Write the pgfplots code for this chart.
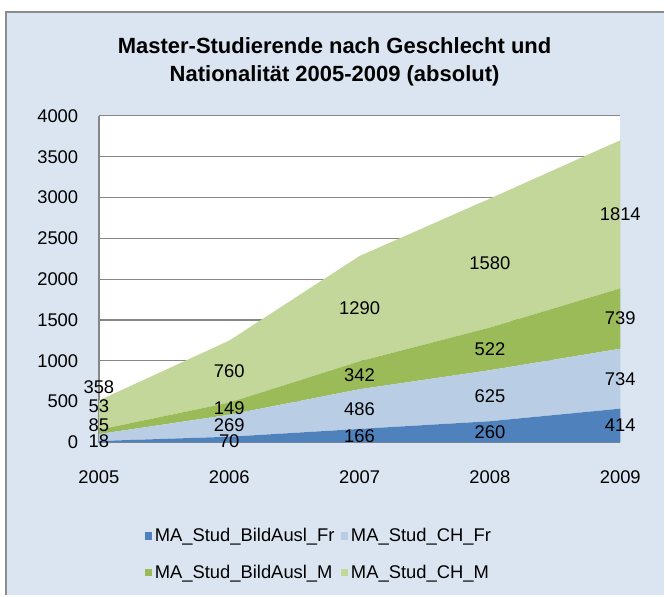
\documentclass[border=0pt]{standalone}
\usepackage{fontspec}
\setmainfont{Liberation Sans}
\usepackage{pgfplots}
\pgfplotsset{compat=1.18}
\definecolor{bgblue}{HTML}{DBE5F1}
\definecolor{framegray}{HTML}{8C8C8C}
\definecolor{gridgray}{HTML}{868686}
\definecolor{cDB}{HTML}{4F81BD}
\definecolor{cLB}{HTML}{B9CDE5}
\definecolor{cDG}{HTML}{9BBB59}
\definecolor{cLG}{HTML}{C4D79B}
\newcommand{\myfs}{\fontsize{13.8}{16}\selectfont}
\begin{document}
\begin{tikzpicture}[x=1pt,y=1pt]
\fill[white] (0,0) rectangle (498.75,447);
\fill[bgblue] (4.5,0) rectangle (498.75,438);
\draw[framegray, line width=1.2pt] (4.5,0) -- (4.5,438) -- (498.75,438);
\node[font=\fontsize{16.5}{21}\selectfont\bfseries, align=center] at (251.25,400.5) {Master-Studierende nach Geschlecht und\\Nationalität 2005-2009 (absolut)};
\begin{axis}[
  at={(74.25pt,114.75pt)}, anchor=south west,
  scale only axis, width=391.5pt, height=245.25pt,
  xmin=2005, xmax=2009, ymin=0, ymax=4000,
  clip=false,
  xtick={2005,2006,2007,2008,2009},
  ytick={0,500,...,4000},
  ymajorgrids, grid style={gridgray, line width=0.9pt},
  major tick length=0pt,
  axis line style={draw=none},
  axis background/.style={fill=white},
  tick label style={font=\myfs},
  /pgf/number format/assume math mode=true,
  /pgf/number format/1000 sep={},
  xticklabel style={yshift=-17.75pt},
  yticklabel style={xshift=-12pt},
  stack plots=y,
  legend image code/.code={\fill[#1] (0pt,-2.65pt) rectangle (5.3pt,2.65pt);},
  legend columns=2,
  legend cell align=left,
  legend style={at={(0.0881,-0.3425)}, anchor=west, draw=none, fill=none, inner sep=0pt, font=\myfs,
    row sep=12pt, /tikz/every even column/.append style={column sep=3pt}},
]
\addplot[fill=cDB, draw=none] coordinates {(2005,18) (2006,70) (2007,166) (2008,260) (2009,414)} \closedcycle;
\addlegendentry{MA\_Stud\_BildAusl\_Fr}
\addplot[fill=cLB, draw=none] coordinates {(2005,85) (2006,269) (2007,486) (2008,625) (2009,734)} \closedcycle;
\addlegendentry{MA\_Stud\_CH\_Fr}
\addplot[fill=cDG, draw=none] coordinates {(2005,53) (2006,149) (2007,342) (2008,522) (2009,739)} \closedcycle;
\addlegendentry{MA\_Stud\_BildAusl\_M}
\addplot[fill=cLG, draw=none] coordinates {(2005,358) (2006,760) (2007,1290) (2008,1580) (2009,1814)} \closedcycle;
\addlegendentry{MA\_Stud\_CH\_M}
\addplot[stack plots=false, forget plot, gridgray, line width=1.5pt, mark=none] coordinates {(2005,4000) (2005,0) (2009,0)};
\addplot[stack plots=false, forget plot, draw=none, mark=none,
  nodes near coords, point meta=explicit symbolic,
  every node near coord/.append style={font=\myfs, inner sep=0pt, anchor=center, black}]
  table[meta=lab] {
x y lab
2005 10 18
2005 215 85
2005 450 53
2005 680 358
2006 15 70
2006 212 269
2006 415 149
2006 868 760
2007 83 166
2007 409 486
2007 823 342
2007 1639 1290
2008 130 260
2008 572 625
2008 1146 522
2008 2197 1580
2009 207 414
2009 781 734
2009 1517 739
2009 2794 1814
};
\end{axis}
\end{tikzpicture}
\end{document}
